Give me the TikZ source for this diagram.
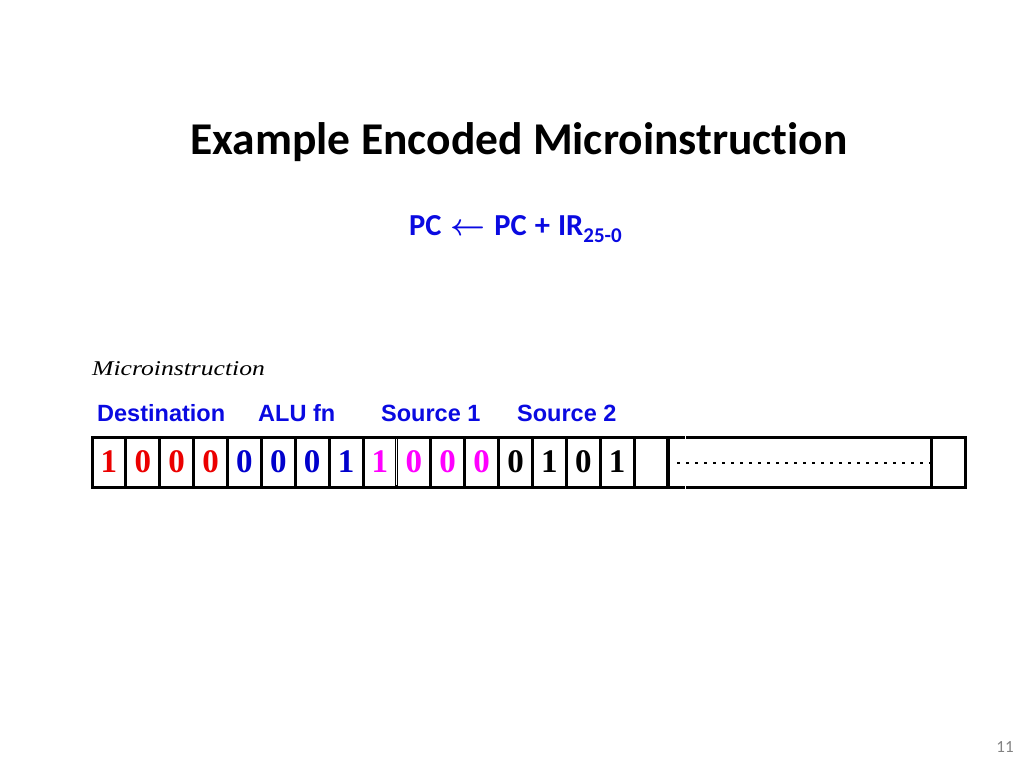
\documentclass[tikz,border=0pt]{standalone}
\usepackage{fontspec}
\usepackage{amsmath,bm}
\setmainfont{Liberation Serif}
\newfontfamily\calfont[Ligatures=NoCommon]{Carlito}
\newfontfamily\arialfont{Liberation Sans}
\definecolor{dred}{RGB}{235,0,0}
\definecolor{dblue}{RGB}{0,0,204}
\definecolor{dmag}{RGB}{255,0,255}
\definecolor{lblue}{RGB}{10,10,225}
\definecolor{pgray}{RGB}{130,130,130}
\begin{document}
\begin{tikzpicture}[x=1pt,y=-1pt,
  cell/.style={draw=black, line width=3pt, minimum height=50pt, inner sep=0pt, outer sep=0pt,
    font=\bfseries\fontsize{33}{36}\selectfont},
  fieldlabel/.style={anchor=base west, text=lblue, inner sep=0pt,
    font=\arialfont\bfseries\fontsize{23.5}{26}\selectfont}]
\useasboundingbox (0,0) rectangle (1024,768);
\node[anchor=base, inner sep=0pt, font=\calfont\bfseries\fontsize{45.5}{52}\selectfont] (title) at (519,154) {Example Encoded Microinstruction};
\node[anchor=base west, inner sep=0pt, text=lblue, font=\calfont\bfseries\fontsize{30.5}{36}\selectfont] (eq) at (409,235)
  {PC\hspace{9pt}\scalebox{1.22}{$\bm{\leftarrow}$}\hspace{9pt}PC\hspace{8pt}+\hspace{8pt}IR\raisebox{-7pt}{\fontsize{21}{24}\selectfont 25-0}};
\node[anchor=base west, inner sep=0pt, xscale=1.22, font=\itshape\fontsize{21}{24}\selectfont] (micro) at (92,375) {Microinstruction};
\node[fieldlabel] (ldest) at (97,421) {Destination};
\node[fieldlabel] (lalu) at (258,421) {ALU fn};
\node[fieldlabel] (ls1) at (381,421) {Source 1};
\node[fieldlabel] (ls2) at (517,421) {Source 2};
\foreach \d/\c [count=\i] in {1/dred,0/dred,0/dred,0/dred,0/dblue,0/dblue,0/dblue,1/dblue,1/dmag,0/dmag,0/dmag,0/dmag,0/black,1/black,0/black,1/black, /black}{
  \node[cell, minimum width=33.88pt, text=\c] (c\i) at ({92+33.88*(\i-0.5)},462) {\d};
}
\node[cell, minimum width=263pt] (cbig) at (799.5,462) {};
\node[cell, minimum width=34pt] (clast) at (948,462) {};
\draw[line width=2.6pt, dash pattern=on 3pt off 6pt] (677,463) -- (930,463);
\draw[white, line width=0.8pt] (396.6,439) -- (396.6,485);
\draw[white, line width=1pt] (685.5,434) -- (685.5,440) (685.5,484) -- (685.5,490);
\node[inner sep=0pt, text=pgray, font=\calfont\fontsize{17}{20}\selectfont] (pg) at (1005,747) {11};
\end{tikzpicture}
\end{document}
